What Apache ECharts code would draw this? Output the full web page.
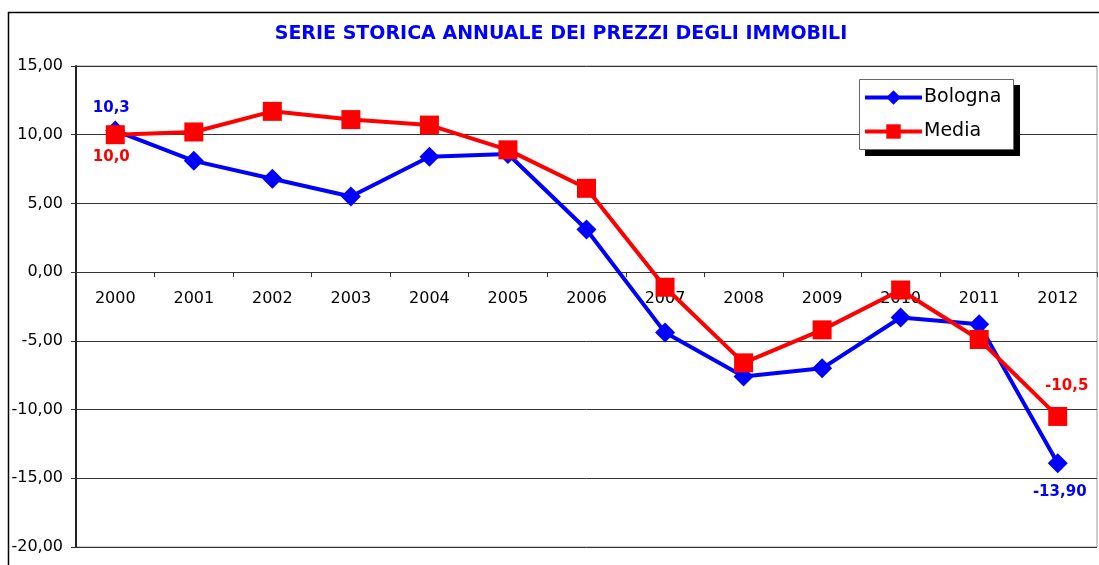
<!DOCTYPE html>
<html>
<head>
<meta charset="utf-8">
<script src="https://cdn.jsdelivr.net/npm/echarts@6/dist/echarts.min.js"></script>
<style>
  html, body { margin: 0; padding: 0; background: #fff; }
  #chart { width: 1099px; height: 565px; }
</style>
</head>
<body>
<div id="chart"></div>
<script>
const years = ['2000', '2001', '2002', '2003', '2004', '2005', '2006', '2007', '2008', '2009', '2010', '2011', '2012']
const bologna = [10.3, 8.1, 6.8, 5.5, 8.4, 8.6, 3.1, -4.4, -7.6, -7.0, -3.3, -3.8, -13.9]
const media = [10.0, 10.2, 11.7, 11.1, 10.7, 8.9, 6.1, -1.1, -6.6, -4.2, -1.3, -4.9, -10.5]
// only first and last points carry a label
const bolognaLabels = { 0: '10,3', 12: '-13,90' }
const mediaLabels = { 0: '10,0', 12: '-10,5' }

const FONT = "'DejaVu Sans', sans-serif"
const Y_MIN = -20, Y_MAX = 15
const GRID = { left: 76, right: 2, top: 66, bottom: 18 }

// label placement for first / last point: [position, distance, dx]
function pointData(values, labels, color, first, last) {
  return values.map((v, i) => {
    if (!(i in labels)) return v
    const p = i === 0 ? first : last
    return {
      value: v,
      label: {
        show: true,
        formatter: labels[i],
        position: p[0],
        distance: p[1],
        offset: [p[2], 0],
        color: color,
        fontFamily: FONT,
        fontWeight: 'bold',
        fontSize: 15
      }
    }
  })
}

const chart = echarts.init(document.getElementById('chart'), null, { renderer: 'canvas' })

// x axis sits on the zero line
const plotH = 565 - GRID.top - GRID.bottom
const zeroOffset = plotH * (0 - Y_MIN) / (Y_MAX - Y_MIN)

chart.setOption({
  backgroundColor: '#fff',
  animation: false,
  title: {
    text: 'SERIE STORICA ANNUALE DEI PREZZI DEGLI IMMOBILI',
    left: 556, top: 20, textAlign: 'center',
    textStyle: { color: '#0000ff', fontFamily: FONT, fontWeight: 'bold', fontSize: 19 }
  },
  graphic: [
    {
      type: 'rect', silent: true, z: -1,
      shape: { x: 8.5, y: 12.5, width: 1200, height: 700 },
      style: { fill: 'none', stroke: '#000', lineWidth: 1.5 }
    },
    // legend frame: hard black drop shadow, then white box
    {
      type: 'rect', silent: true, z: 4,
      shape: { x: 865, y: 85, width: 155, height: 71 },
      style: { fill: '#000' }
    },
    {
      type: 'rect', silent: true, z: 4,
      shape: { x: 859.5, y: 79.5, width: 154, height: 70 },
      style: { fill: '#fff', stroke: '#666', lineWidth: 1 }
    }
  ],
  legend: {
    orient: 'vertical',
    left: 859, top: 79, z: 5,
    padding: [9, 12, 9, 4],
    itemWidth: 57, itemHeight: 18, itemGap: 15,
    lineStyle: { width: 4 },
    textStyle: { color: '#000', fontFamily: FONT, fontSize: 19, padding: [0, 0, 0, -3] },
    data: ['Bologna', 'Media']
  },
  grid: {
    left: GRID.left, right: GRID.right, top: GRID.top, bottom: GRID.bottom,
    outerBoundsMode: 'none',
    show: true, borderColor: '#999', borderWidth: 1
  },
  xAxis: {
    type: 'category', data: years, boundaryGap: true,
    offset: -zeroOffset,
    axisLine: { onZero: false, lineStyle: { color: '#333', width: 1 } },
    axisTick: { show: true, length: 5, lineStyle: { color: '#333' } },
    axisLabel: { color: '#000', fontFamily: FONT, fontSize: 16, margin: 19 },
    splitLine: { show: false }
  },
  yAxis: {
    type: 'value', min: Y_MIN, max: Y_MAX, interval: 5,
    axisLine: { show: true, onZero: false, lineStyle: { color: '#222', width: 2 } },
    axisTick: { show: true, length: 5, lineStyle: { color: '#333' } },
    axisLabel: {
      color: '#000', fontFamily: FONT, fontSize: 16, margin: 13,
      formatter: v => v.toFixed(2).replace('.', ',')
    },
    splitLine: { lineStyle: { color: '#333', width: 1 } }
  },
  series: [
    {
      name: 'Bologna', type: 'line',
      data: pointData(bologna, bolognaLabels, '#0000ff', ['top', 5, -4], ['bottom', 11, 2]),
      color: '#0000ff',
      symbol: 'diamond', symbolSize: 20,
      lineStyle: { width: 4, color: '#0000ff' },
      itemStyle: { color: '#0000ff' }
    },
    {
      name: 'Media', type: 'line',
      data: pointData(media, mediaLabels, '#ff0000', ['bottom', 5, -4], ['top', 13, 9]),
      color: '#ff0000',
      symbol: 'rect', symbolSize: 19,
      lineStyle: { width: 4, color: '#ff0000' },
      itemStyle: { color: '#ff0000' }
    }
  ]
})
</script>
</body>
</html>
